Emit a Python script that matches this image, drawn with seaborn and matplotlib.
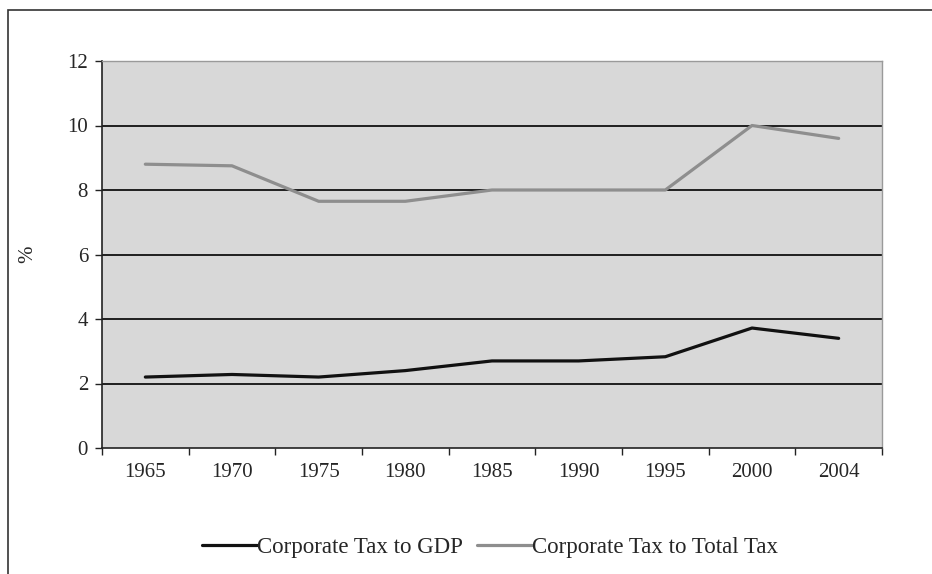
import matplotlib
matplotlib.use("Agg")
import matplotlib.pyplot as plt
import seaborn as sns
import pandas as pd
import numpy as np
from matplotlib.lines import Line2D

years = ["1965", "1970", "1975", "1980", "1985", "1990", "1995", "2000", "2004"]
tax_to_gdp = [2.2, 2.28, 2.2, 2.4, 2.7, 2.7, 2.83, 3.72, 3.4]
tax_to_total = [8.8, 8.75, 7.65, 7.65, 8.0, 8.0, 8.0, 10.0, 9.6]
series_names = ["Corporate Tax to GDP", "Corporate Tax to Total Tax"]
y_ticks = [0, 2, 4, 6, 8, 10, 12]

sns.set_theme(style="white")
plt.rcParams["font.family"] = ["Liberation Serif", "DejaVu Serif"]

df = pd.DataFrame({
    "year": years * 2,
    "pos": list(range(len(years))) * 2,
    "value": tax_to_gdp + tax_to_total,
    "series": [series_names[0]] * len(years) + [series_names[1]] * len(years),
})

FS = 15
fig = plt.figure(figsize=(9.32, 5.74), dpi=100)
# outer frame (extends past the bottom/right edges)
fig.patches.append(plt.Rectangle((8 / 932, -0.05), 1.2, (574 - 10) / 574 + 0.05,
                                 transform=fig.transFigure, fill=False,
                                 edgecolor="#333333", linewidth=1.2))
ax = fig.add_axes([102 / 932, 1 - 448 / 574, (882 - 102) / 932, (448 - 61) / 574])
ax.set_facecolor("#d8d8d8")

sns.lineplot(data=df, x="pos", y="value", hue="series",
             palette={series_names[0]: "#111111", series_names[1]: "#8e8e8e"},
             linewidth=2.3, ax=ax, legend=False, sort=False)

ax.set_xlim(-0.5, len(years) - 0.5)
ax.set_ylim(0, 12)
ax.set_yticks(y_ticks)
ax.set_yticklabels([str(t) for t in y_ticks], fontsize=FS)
ax.set_xticks(np.arange(len(years)))
ax.set_xticklabels(years, fontsize=FS)
ax.set_xticks(np.arange(len(years) + 1) - 0.5, minor=True)
ax.tick_params(axis="x", which="major", length=0, pad=11)
ax.tick_params(axis="x", which="minor", length=5, width=1, color="#222222", direction="out", bottom=True)
ax.tick_params(axis="y", length=5, width=1, color="#222222", direction="out", left=True, pad=5)
for t in y_ticks[1:-1]:
    ax.axhline(t, color="#111111", linewidth=1.3, zorder=1)
ax.set_xlabel("")
ax.set_ylabel("%", fontsize=FS, labelpad=22)

for side in ["left", "bottom"]:
    ax.spines[side].set_color("#222222")
    ax.spines[side].set_linewidth(1.2)
for side in ["top", "right"]:
    ax.spines[side].set_color("#9a9a9a")
    ax.spines[side].set_linewidth(1.0)

handles = [Line2D([], [], color="#111111", linewidth=2.3),
           Line2D([], [], color="#8e8e8e", linewidth=2.3)]
fig.legend(handles, series_names, loc="center", bbox_to_anchor=(490 / 932, 1 - 547 / 574),
           ncol=2, frameon=False, fontsize=16.5, handlelength=2.4, handletextpad=0.0,
           columnspacing=0.6)

fig.savefig("out.png", dpi=100)
